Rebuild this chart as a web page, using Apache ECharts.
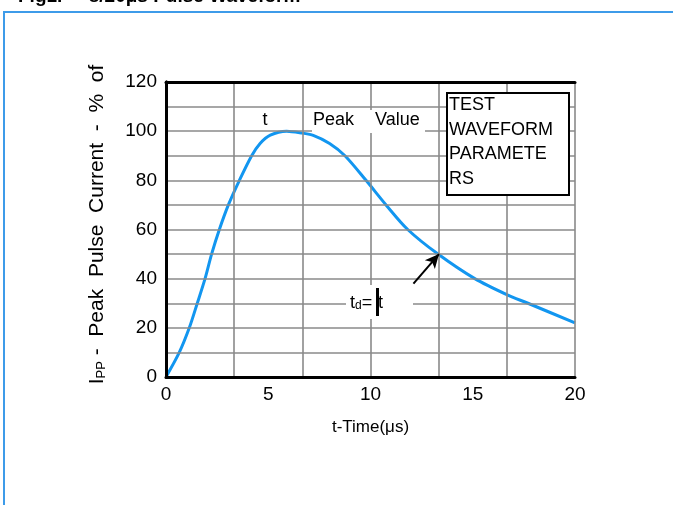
<!DOCTYPE html>
<html>
<head>
<meta charset="utf-8">
<script src="https://cdn.jsdelivr.net/npm/echarts@6/dist/echarts.min.js"></script>
<style>
html,body{margin:0;padding:0;background:#fff;}
#c{width:673px;height:505px;}
</style>
</head>
<body>
<div id="c"></div>
<script>
// Time (µs) and peak pulse current (% of peak)
const timeUs = [0, 0.65, 1.14, 1.53, 1.91, 2.23, 2.61, 3.05, 3.59, 4.19, 4.6, 5.1, 5.9, 6.67, 7.2, 8.0, 8.75, 9.78, 10.76, 11.82, 13.3, 15.1, 16.69, 17.7, 20];
const currentPct = [0, 10, 20, 30, 40, 50, 60, 70, 80, 90, 95, 98.4, 100, 99.2, 98.3, 95, 90, 80, 70, 60, 50, 40, 33.4, 30, 22];
const xTickLabels = ['0', '5', '10', '15', '20'];
const yTickLabels = ['0', '20', '40', '60', '80', '100', '120'];

const FONT = '"Liberation Sans", Arial, Helvetica, sans-serif';
const chart = echarts.init(document.getElementById('c'), null, {renderer: 'canvas'});

const data = timeUs.map((t, i) => [t, currentPct[i]]);
const GRID = {color: '#8a8a8a', width: 1.6};
const EDGE = {show: true, lineStyle: {color: '#000', width: 3}};

chart.setOption({
  animation: false,
  backgroundColor: '#fff',
  grid: {left: 166, right: 98, top: 82, bottom: 128},
  xAxis: [
    { // vertical grid lines every 20/6 µs
      type: 'value', min: 0, max: 20, interval: 10 / 3, position: 'bottom',
      axisLine: EDGE, axisTick: {show: false}, axisLabel: {show: false},
      splitLine: {show: true, lineStyle: GRID}, z: 5
    },
    { // labelled ticks
      type: 'value', min: 0, max: 20, interval: 5, position: 'bottom',
      axisLine: {show: false}, axisTick: {show: false}, splitLine: {show: false},
      axisLabel: {
        margin: 8, color: '#000', fontFamily: FONT, fontSize: 19,
        formatter: (v) => xTickLabels.includes(String(Math.round(v))) ? String(Math.round(v)) : ''
      },
      name: 't-Time(μs)', nameLocation: 'middle', nameGap: 42,
      nameTextStyle: {color: '#000', fontFamily: FONT, fontSize: 17}
    },
    { // top frame
      type: 'value', min: 0, max: 20, position: 'top',
      axisLine: EDGE, axisTick: {show: false}, axisLabel: {show: false}, splitLine: {show: false}, z: 5
    }
  ],
  yAxis: [
    {
      type: 'value', min: 0, max: 120, interval: 10, position: 'left',
      axisLine: EDGE, axisTick: {show: false},
      splitLine: {show: true, lineStyle: GRID},
      axisLabel: {
        margin: 9, color: '#000', fontFamily: FONT, fontSize: 19,
        formatter: (v) => yTickLabels.includes(String(Math.round(v))) ? String(Math.round(v)) : ''
      },
      name: '{a|I}{b|PP}{a| -  Peak  Pulse  Current  -  %  of}',
      nameLocation: 'middle', nameGap: 58, nameRotate: 90,
      nameTextStyle: {
        color: '#000', fontFamily: FONT, fontSize: 21, padding: [0, 0, 0, 10],
        rich: {
          a: {fontFamily: FONT, fontSize: 21, color: '#000'},
          b: {fontFamily: FONT, fontSize: 13, color: '#000', verticalAlign: 'bottom', padding: [7, 0, 0, 0]}
        }
      }, z: 5
    },
    {
      type: 'value', min: 0, max: 120, position: 'right',
      axisLine: EDGE, axisTick: {show: false}, axisLabel: {show: false}, splitLine: {show: false}, z: 5
    }
  ],
  series: [{
    type: 'line', data: data, smooth: 0.3, showSymbol: false,
    xAxisIndex: 0, yAxisIndex: 0,
    lineStyle: {color: '#1296f0', width: 3},
    z: 3,
    markLine: {
      silent: true, symbol: ['none', 'arrow'], symbolSize: [10, 14],
      label: {show: false},
      lineStyle: {color: '#000', width: 2, type: 'solid'},
      data: [[{coord: [12.1, 38]}, {coord: [13.35, 50]}]]
    }
  }]
});

chart.setOption({
  graphic: [
    // page frame and cut-off title
    {type: 'rect', shape: {x: 4, y: 12, width: 720, height: 600}, style: {fill: 'none', stroke: '#3d9be9', lineWidth: 2}, z: 1},
    {type: 'text', x: 18, y: 6, style: {text: 'Fig1.     8/20μs Pulse Waveform', font: 'bold 19px ' + FONT, fill: '#000', textVerticalAlign: 'bottom'}, z: 10},
    // Peak value label
    {type: 'rect', shape: {x: 312, y: 110, width: 113, height: 23}, style: {fill: '#fff'}, z: 50},
    {type: 'text', x: 265, y: 120, style: {text: 't', font: '18px ' + FONT, fill: '#000', textAlign: 'center', textVerticalAlign: 'middle'}, z: 51},
    {type: 'text', x: 313, y: 120, style: {text: 'Peak', font: '18px ' + FONT, fill: '#000', textVerticalAlign: 'middle'}, z: 51},
    {type: 'text', x: 375, y: 120, style: {text: 'Value', font: '18px ' + FONT, fill: '#000', textVerticalAlign: 'middle'}, z: 51},
    // test waveform parameters box
    {type: 'rect', shape: {x: 447, y: 93, width: 122, height: 102}, style: {fill: '#fff', stroke: '#000', lineWidth: 2}, z: 50},
    {type: 'text', x: 449, y: 93, style: {text: 'TEST\nWAVEFORM\nPARAMETE\nRS', font: '18px ' + FONT, lineHeight: 24.5, fill: '#000', textVerticalAlign: 'top'}, z: 51},
    // td = t label
    {type: 'rect', shape: {x: 346, y: 285, width: 67, height: 34}, style: {fill: '#fff'}, z: 50},
    {type: 'text', x: 350, y: 312, style: {
      text: '{t|t}{d|d}{t|=}',
      rich: {
        t: {font: '18px ' + FONT, fill: '#000'},
        d: {font: '12px ' + FONT, fill: '#000', verticalAlign: 'bottom'}
      },
      textVerticalAlign: 'bottom'}, z: 51},
    {type: 'text', x: 378, y: 312, style: {text: 't', font: '18px ' + FONT, fill: '#000', textVerticalAlign: 'bottom'}, z: 51},
    {type: 'rect', shape: {x: 376, y: 288, width: 3, height: 28}, style: {fill: '#000'}, z: 52}
  ]
});
</script>
</body>
</html>
